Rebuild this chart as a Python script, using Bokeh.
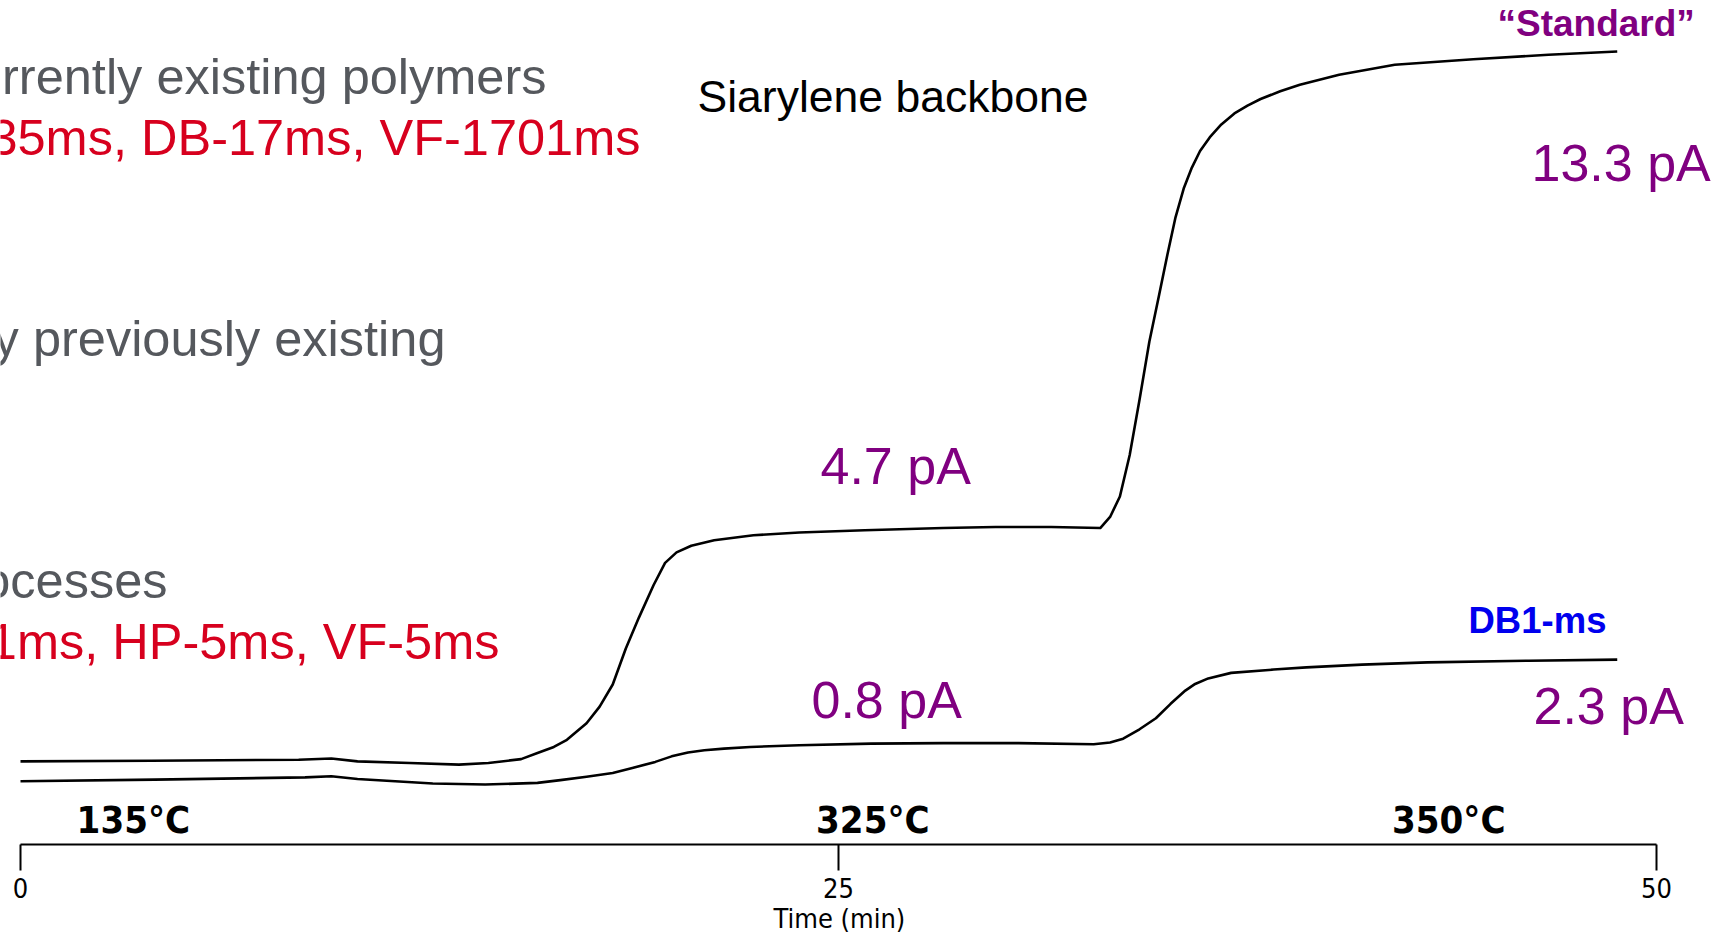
from bokeh.plotting import figure
from bokeh.models import Range1d, FixedTicker, Label, Title
from bokeh.embed import file_html
from bokeh.resources import INLINE

# FID bleed traces (time in min, signal in pA)
standard_time = [0.0, 4.0, 8.5, 9.5, 10.3, 11.9, 13.4, 14.3, 15.3, 15.8,
                 16.3, 16.7, 17.3, 17.7, 18.1, 18.5, 18.9, 19.35, 19.7, 20.05,
                 20.5, 21.2, 22.4, 23.8, 25.8, 28.2, 29.8, 31.5, 33.0, 33.3,
                 33.6, 33.9, 34.2, 34.5, 34.8, 35.05, 35.3, 35.55, 35.8, 36.05,
                 36.35, 36.7, 37.1, 37.5, 37.9, 38.5, 39.1, 40.3, 42.0, 44.4,
                 46.7, 48.8]
standard_pa = [0.46, 0.47, 0.49, 0.51, 0.46, 0.43, 0.40, 0.43, 0.50, 0.61,
               0.72, 0.85, 1.15, 1.45, 1.85, 2.50, 3.06, 3.65, 4.05, 4.24,
               4.36, 4.46, 4.55, 4.60, 4.64, 4.68, 4.70, 4.70, 4.68, 4.88,
               5.25, 6.00, 7.00, 8.05, 8.90, 9.62, 10.30, 10.82, 11.20, 11.50,
               11.75, 11.98, 12.18, 12.32, 12.44, 12.58, 12.70, 12.88, 13.06, 13.16,
               13.24, 13.30]

db1ms_time = [0.0, 4.1, 8.7, 9.5, 10.3, 12.6, 14.2, 15.8, 16.5, 17.3,
              18.1, 18.7, 19.4, 19.9, 20.4, 20.9, 21.5, 22.3, 23.8, 26.0,
              28.2, 30.5, 32.8, 33.3, 33.7, 34.2, 34.7, 35.15, 35.6, 35.9,
              36.3, 37.0, 38.3, 39.3, 41.0, 43.0, 46.1, 48.8]
db1ms_pa = [0.10, 0.13, 0.17, 0.19, 0.14, 0.06, 0.04, 0.07, 0.12, 0.18,
            0.25, 0.34, 0.45, 0.55, 0.62, 0.66, 0.69, 0.72, 0.75, 0.78,
            0.79, 0.79, 0.77, 0.80, 0.87, 1.04, 1.24, 1.50, 1.74, 1.86,
            1.96, 2.06, 2.12, 2.16, 2.21, 2.25, 2.28, 2.30]

time_ticks = [0, 25, 50]
temperature_labels = ["135°C", "325°C", "350°C"]
temperature_times = [3.45, 26.05, 43.65]
level_labels = ["4.7 pA", "0.8 pA", "13.3 pA", "2.3 pA"]

W, H = 1736, 933
FRAME_H = 845
X_RANGE = (-0.6112, 52.445)
Y_RANGE = (-1.0443, 14.222)


def px_x(px):
    return X_RANGE[0] + px / W * (X_RANGE[1] - X_RANGE[0])


def px_y(py):
    return Y_RANGE[1] - py / FRAME_H * (Y_RANGE[1] - Y_RANGE[0])


p = figure(width=W, height=H, output_backend="svg", toolbar_location=None,
           x_range=Range1d(*X_RANGE), y_range=Range1d(*Y_RANGE),
           y_axis_location=None, min_border_left=0, min_border_right=0,
           min_border_top=0, min_border_bottom=0)
p.outline_line_color = None
p.xgrid.visible = False
p.ygrid.visible = False
p.background_fill_color = "white"
p.border_fill_color = "white"

NARROW = "'DejaVu Sans Condensed', 'Liberation Sans'"
SANS = "Liberation Sans"

ax = p.xaxis[0]
ax.ticker = FixedTicker(ticks=time_ticks)
ax.bounds = (0, 50)
ax.axis_line_width = 2
ax.axis_line_color = "black"
ax.major_tick_line_width = 2
ax.major_tick_line_color = "black"
ax.major_tick_out = 26
ax.major_tick_in = 0
ax.minor_tick_line_color = None
ax.major_label_standoff = 7
ax.major_label_text_font = NARROW
ax.major_label_text_font_size = "27px"
ax.major_label_text_color = "black"

# axis title, placed under the middle tick rather than the frame centre
p.add_layout(Title(text="Time (min)", align="left", offset=773, standoff=0,
                   text_font=NARROW, text_font_size="27px",
                   text_font_style="normal", text_color="black"), "below")

p.line(standard_time, standard_pa, line_color="black", line_width=2.6,
       line_join="round")
p.line(db1ms_time, db1ms_pa, line_color="black", line_width=2.6,
       line_join="round")

for name, t in zip(temperature_labels, temperature_times):
    p.add_layout(Label(x=t, y=px_y(820), text=name, text_align="center",
                       text_baseline="middle", text_font=NARROW,
                       text_font_style="bold", text_font_size="38px",
                       text_color="black"))

GRAY = "#55585d"
RED = "#d7001e"
PURPLE = "#800080"
BLUE = "#0000ee"


def add_text(px, py, text, color, size, align="left", style="normal", font=SANS):
    p.add_layout(Label(x=px_x(px), y=px_y(py), text=text, text_align=align,
                       text_baseline="middle", text_font=font,
                       text_font_style=style, text_font_size=size,
                       text_color=color))


add_text(546, 76, "rrently existing polymers", GRAY, "50.5px", align="right")
add_text(640, 137, "35ms, DB-17ms, VF-1701ms", RED, "50.5px", align="right")
add_text(445, 338, "y previously existing", GRAY, "50.5px", align="right")
add_text(167, 581, "ocesses", GRAY, "50.5px", align="right")
add_text(499, 642, "1ms, HP-5ms, VF-5ms", RED, "50.5px", align="right")
add_text(697, 96, "Siarylene backbone", "black", "44.5px")

add_text(820, 466, level_labels[0], PURPLE, "52px")
add_text(811, 700, level_labels[1], PURPLE, "52px")
add_text(1531, 163, level_labels[2], PURPLE, "52px")
add_text(1533, 706, level_labels[3], PURPLE, "52px")

add_text(1497, 23, "\u201cStandard\u201d", PURPLE, "37px", style="bold")
add_text(1468, 621, "DB1-ms", BLUE, "36.5px", style="bold")

open("out.html", "w").write(file_html(p, INLINE))
